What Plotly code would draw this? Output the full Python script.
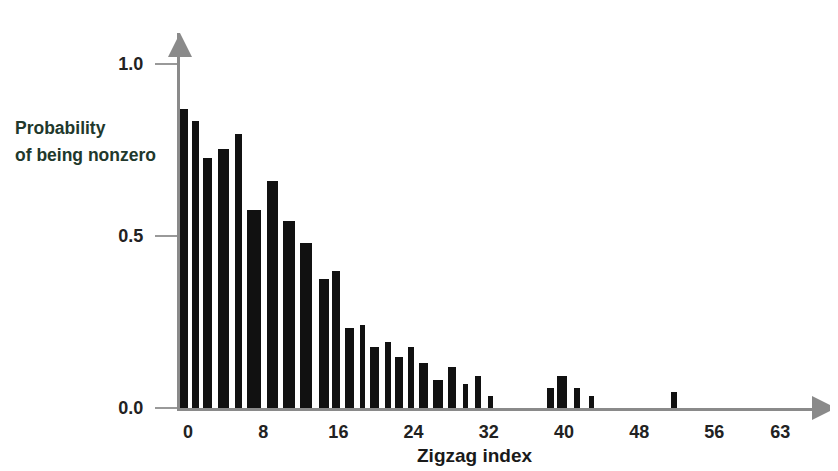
import plotly.graph_objects as go

# Data (bar position on the zigzag-index axis, probability)
zigzag_pos = [-0.4, 0.8, 2.05, 3.8, 5.4, 7.0, 9.0, 10.75, 12.55, 14.45, 15.75,
              17.2, 18.55, 19.85, 21.3, 22.45, 23.7, 25.05, 26.6, 28.1, 29.5,
              30.85, 32.2, 38.55, 39.8, 41.4, 42.9, 51.7]
prob_nonzero = [0.869, 0.834, 0.728, 0.752, 0.797, 0.576, 0.661, 0.544, 0.480,
                0.376, 0.398, 0.233, 0.241, 0.178, 0.192, 0.148, 0.178, 0.131,
                0.081, 0.119, 0.070, 0.093, 0.035, 0.058, 0.093, 0.058, 0.035,
                0.047]
x_tick_vals = [0, 8, 16, 24, 32, 40, 48, 56, 63]
x_tick_text = ["0", "8", "16", "24", "32", "40", "48", "56", "63"]
y_tick_vals = [0.0, 0.5, 1.0]
y_tick_text = ["0.0", "0.5", "1.0"]

# style: drawn bar widths (in index units) as seen in the scan
bar_widths = [0.85, 0.75, 0.95, 1.2, 0.75, 1.5, 1.2, 1.3, 1.3, 1.05, 0.85,
              0.95, 0.55, 0.95, 0.65, 0.85, 0.65, 0.95, 1.05, 0.85, 0.55,
              0.65, 0.55, 0.75, 1.05, 0.65, 0.55, 0.65]

FONT = "Liberation Sans, Arial, sans-serif"
AXIS_COL = "#8a8a8a"
PLOT_W, PLOT_H = 656, 375  # plot area in px

fig = go.Figure()
fig.add_trace(go.Bar(
    x=zigzag_pos, y=prob_nonzero, width=bar_widths,
    marker=dict(color="#111111", line=dict(width=0)),
    hoverinfo="x+y", showlegend=False,
))

# the page body adds an 8px margin, so the figure is 8px smaller and shifted
fig.update_layout(
    width=830, height=463,
    margin=dict(l=172, r=2, t=25, b=63, autoexpand=False),
    paper_bgcolor="white", plot_bgcolor="white",
    font=dict(family=FONT, color="#222"),
    xaxis=dict(
        range=[-0.85, 68.94], showgrid=False, zeroline=False, automargin=False,
        showline=True, linecolor=AXIS_COL, linewidth=3,
        tickvals=x_tick_vals, ticktext=x_tick_text, ticks="",
        tickfont=dict(family=FONT, size=18, color="#222", weight="bold"),
        ticklabelstandoff=5,
    ),
    yaxis=dict(
        range=[0, 1.09], showgrid=False, zeroline=False, automargin=False,
        showline=True, linecolor=AXIS_COL, linewidth=3,
        tickvals=y_tick_vals, ticktext=y_tick_text,
        ticks="outside", ticklen=22, tickwidth=1.5, tickcolor="#999",
        tickfont=dict(family=FONT, size=18, color="#222", weight="bold"),
        ticklabelstandoff=8,
    ),
    bargap=0,
)

# arrowheads on the axes
fig.add_annotation(xref="paper", yref="paper", x=1.0, y=0.0, ax=-20, ay=0,
                   showarrow=True, arrowhead=2, arrowsize=1.6, arrowwidth=3,
                   arrowcolor=AXIS_COL, text="")
fig.add_annotation(xref="paper", yref="paper", x=0.0, y=1.0, ax=0, ay=20,
                   showarrow=True, arrowhead=2, arrowsize=1.6, arrowwidth=3,
                   arrowcolor=AXIS_COL, text="")

# axis titles
fig.add_annotation(xref="paper", yref="paper", x=295 / PLOT_W, y=-47 / PLOT_H,
                   text="Zigzag index", showarrow=False,
                   font=dict(family=FONT, size=19, color="#1a1a1a", weight="bold"),
                   xanchor="center", yanchor="middle")
fig.add_annotation(xref="paper", yref="paper", x=-167 / PLOT_W, y=280 / PLOT_H,
                   text="Probability", showarrow=False, align="left",
                   font=dict(family=FONT, size=17.5, color="#21382c", weight="bold"),
                   xanchor="left", yanchor="middle")
fig.add_annotation(xref="paper", yref="paper", x=-167 / PLOT_W, y=253 / PLOT_H,
                   text="of being nonzero", showarrow=False, align="left",
                   font=dict(family=FONT, size=17.5, color="#21382c", weight="bold"),
                   xanchor="left", yanchor="middle")

fig.write_html("out.html")
